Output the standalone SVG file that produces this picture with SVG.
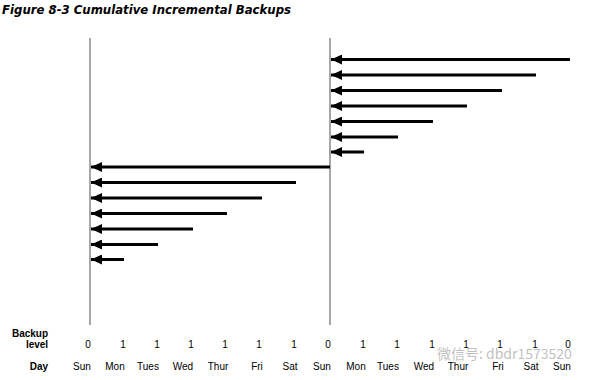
<svg xmlns="http://www.w3.org/2000/svg" width="593" height="380" viewBox="0 0 593 380">
<style>
.title{font-family:"DejaVu Sans",Verdana,sans-serif;font-weight:bold;font-style:italic;font-size:12px;fill:#000}
.lbl{font-family:"Liberation Sans",Arial,sans-serif;font-size:10px;fill:#000;text-anchor:middle}
.b{font-weight:bold}
.axis{stroke:#a6a6a6;stroke-width:2;fill:none}
.arr{stroke:#000;stroke-width:3;fill:none;marker-end:url(#ah)}
.wm{font-family:"Noto Sans CJK SC","DejaVu Sans",sans-serif;font-size:14px;fill:#b0b0b0;fill-opacity:0.8}
</style>
<defs>
<marker id="ah" markerUnits="userSpaceOnUse" markerWidth="12" markerHeight="10" refX="11" refY="5" orient="auto">
<path d="M0,0 L11,5 L0,10 Z" fill="#000"/>
</marker>
</defs>
<rect width="593" height="380" fill="#fff"/>
<text class="title" x="2" y="14" textLength="289" lengthAdjust="spacingAndGlyphs">Figure 8-3 Cumulative Incremental Backups</text>
<g id="timelines">
<line class="axis" x1="90" y1="38" x2="90" y2="325"/>
<line class="axis" x1="330" y1="38" x2="330" y2="325"/>
</g>
<g id="connectors">
<line class="arr" x1="570" y1="59.5" x2="331" y2="59.5"/>
<line class="arr" x1="536" y1="75" x2="331" y2="75"/>
<line class="arr" x1="502" y1="90.5" x2="331" y2="90.5"/>
<line class="arr" x1="467" y1="106" x2="331" y2="106"/>
<line class="arr" x1="433" y1="121.5" x2="331" y2="121.5"/>
<line class="arr" x1="398" y1="137" x2="331" y2="137"/>
<line class="arr" x1="364" y1="152" x2="331" y2="152"/>
<line class="arr" x1="330" y1="167" x2="91" y2="167"/>
<line class="arr" x1="296" y1="182.5" x2="91" y2="182.5"/>
<line class="arr" x1="262" y1="198" x2="91" y2="198"/>
<line class="arr" x1="227" y1="213.5" x2="91" y2="213.5"/>
<line class="arr" x1="193" y1="229" x2="91" y2="229"/>
<line class="arr" x1="158" y1="244.5" x2="91" y2="244.5"/>
<line class="arr" x1="124" y1="259.5" x2="91" y2="259.5"/>
</g>
<g id="labels">
<text class="lbl b" x="30" y="337">Backup</text>
<text class="lbl b" x="37" y="348">level</text>
<text class="lbl b" x="39" y="370">Day</text>
<g id="levels">
<text class="lbl" x="88" y="348">0</text>
<text class="lbl" x="123" y="348">1</text>
<text class="lbl" x="157" y="348">1</text>
<text class="lbl" x="191" y="348">1</text>
<text class="lbl" x="225" y="348">1</text>
<text class="lbl" x="259" y="348">1</text>
<text class="lbl" x="294" y="348">1</text>
<text class="lbl" x="328" y="348">0</text>
<text class="lbl" x="363" y="348">1</text>
<text class="lbl" x="397" y="348">1</text>
<text class="lbl" x="432" y="348">1</text>
<text class="lbl" x="466" y="348">1</text>
<text class="lbl" x="500" y="348">1</text>
<text class="lbl" x="535" y="348">1</text>
<text class="lbl" x="568" y="348">0</text>
</g>
<g id="days">
<text class="lbl" x="82" y="370">Sun</text>
<text class="lbl" x="115" y="370">Mon</text>
<text class="lbl" x="148" y="370">Tues</text>
<text class="lbl" x="183" y="370">Wed</text>
<text class="lbl" x="218" y="370">Thur</text>
<text class="lbl" x="257" y="370">Fri</text>
<text class="lbl" x="290" y="370">Sat</text>
<text class="lbl" x="322" y="370">Sun</text>
<text class="lbl" x="356" y="370">Mon</text>
<text class="lbl" x="388" y="370">Tues</text>
<text class="lbl" x="424" y="370">Wed</text>
<text class="lbl" x="458" y="370">Thur</text>
<text class="lbl" x="498" y="370">Fri</text>
<text class="lbl" x="531" y="370">Sat</text>
<text class="lbl" x="562" y="370">Sun</text>
</g>
</g>
<text class="wm" x="437" y="359">微信号: dbdr1573520</text>
</svg>
